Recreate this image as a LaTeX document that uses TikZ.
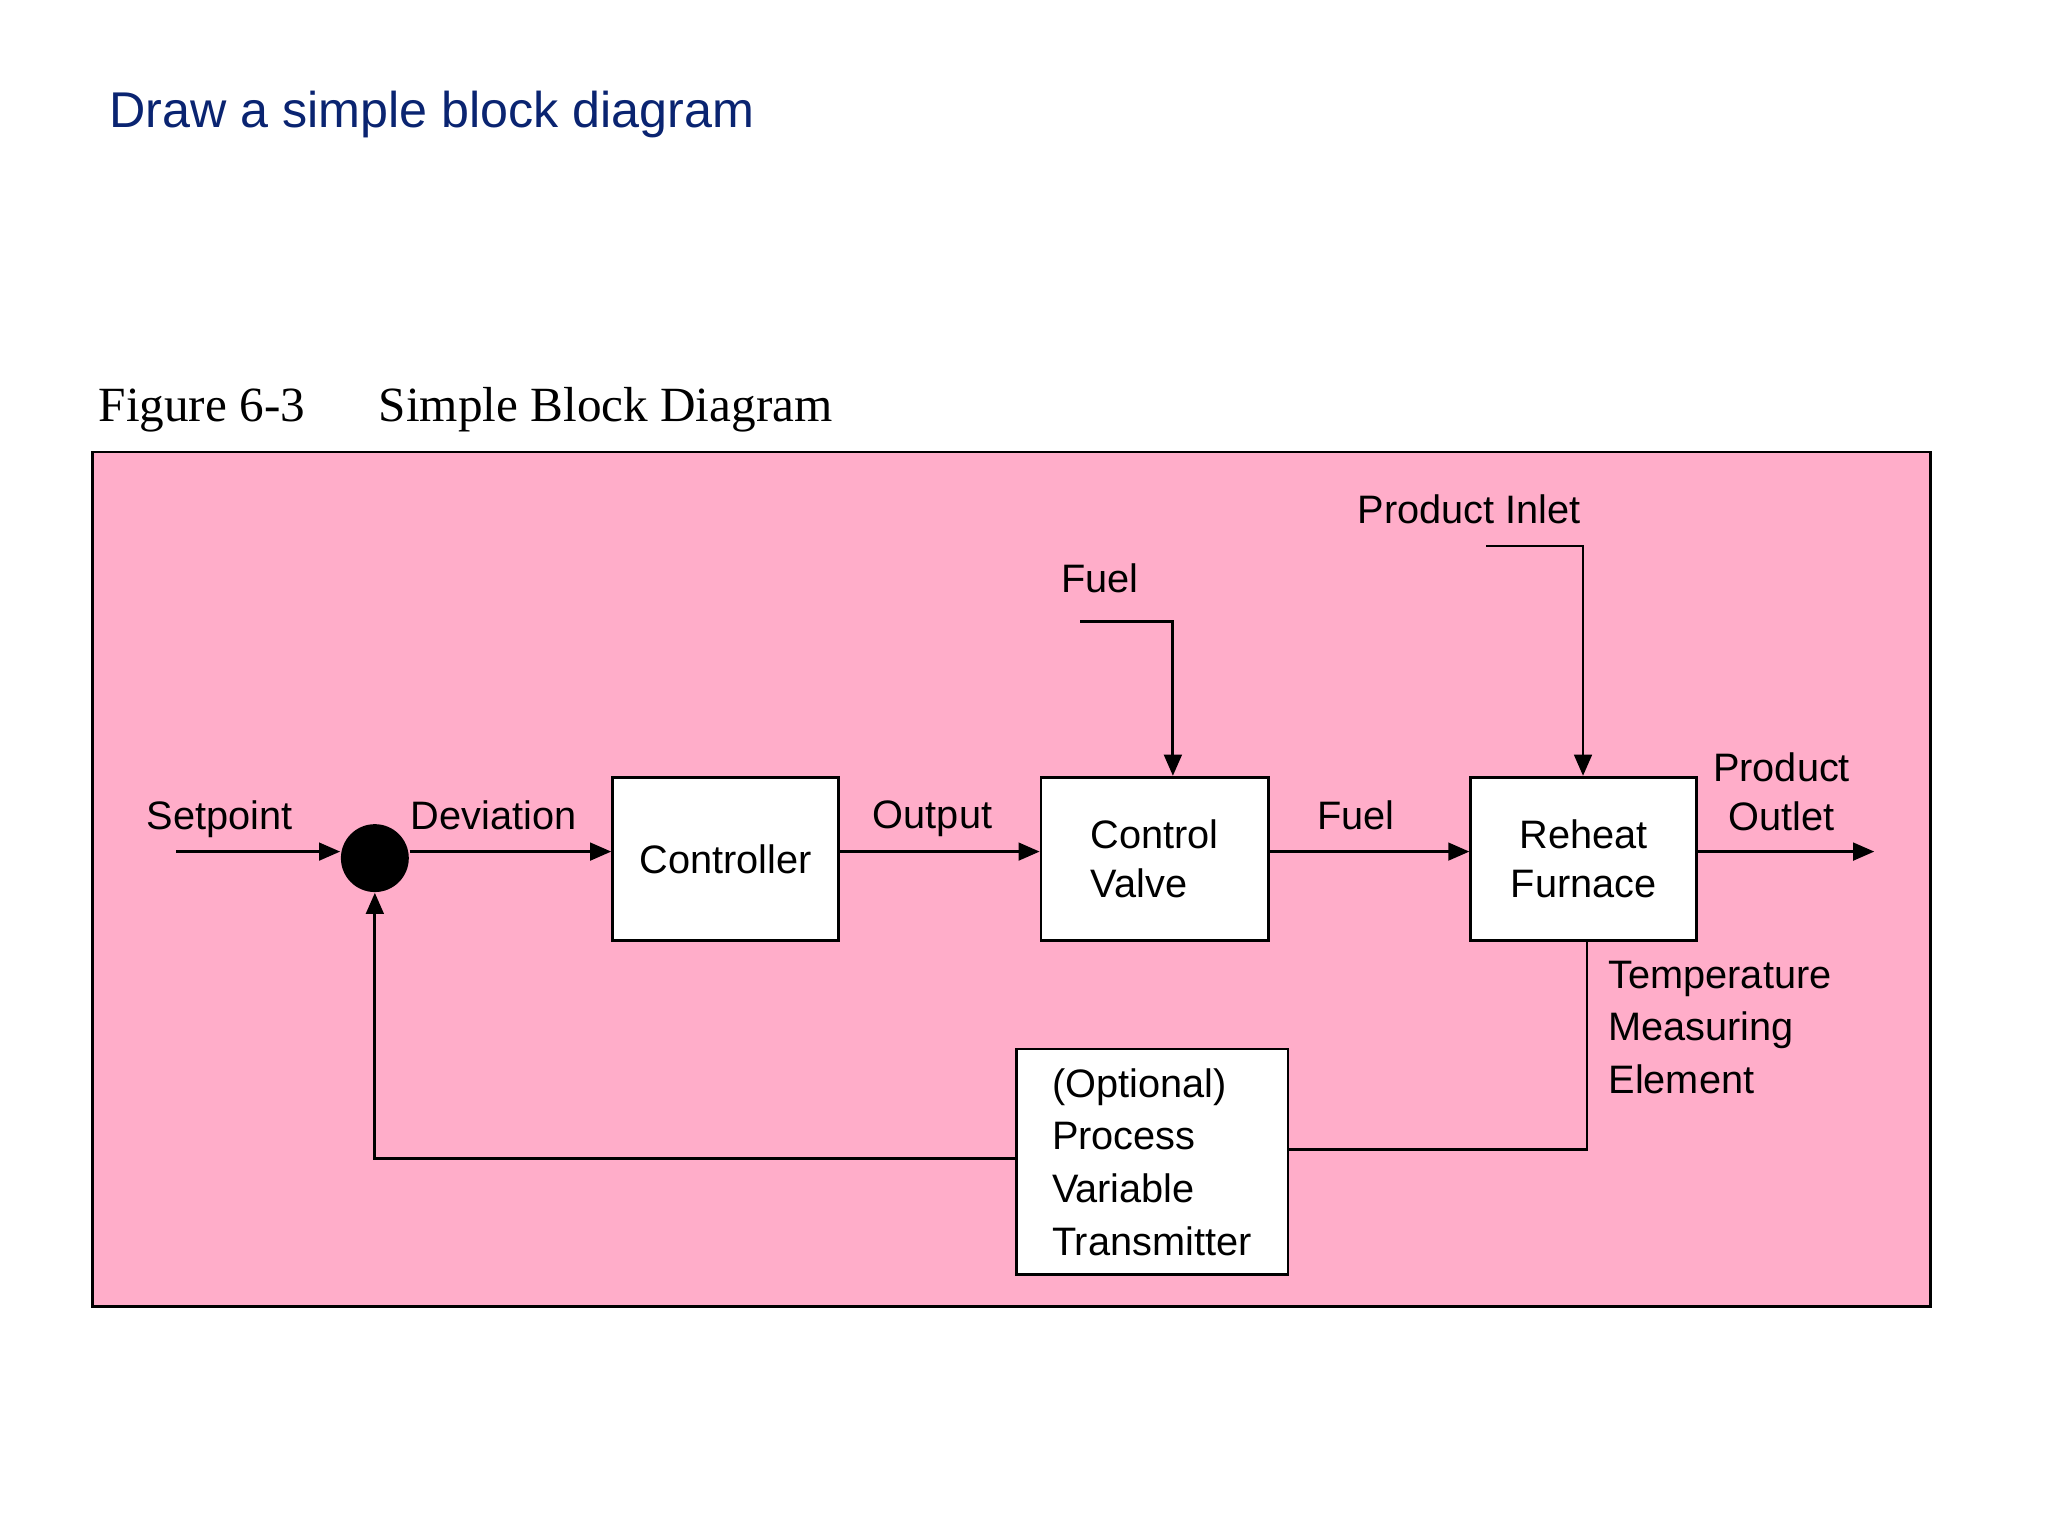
\documentclass[tikz,border=0pt]{standalone}
\usepackage{fontspec}
\setmainfont{Liberation Sans}
\newfontfamily\seriffont{Liberation Serif}
\usetikzlibrary{arrows.meta}
\definecolor{bgpink}{HTML}{FFADC9}
\definecolor{titleblue}{HTML}{0A2471}
\begin{document}
\begin{tikzpicture}[x=0.013061cm,y=-0.013061cm,
    block/.style={draw,line width=0.8pt,fill=white,inner sep=0pt,anchor=north west},
    lbl/.style={font=\fontsize{11.3}{14}\selectfont,inner sep=0pt},
    arrow/.style={line width=0.8pt,-{Triangle[length=6pt,width=5pt]}},
    wire/.style={line width=0.8pt}
  ]
  \useasboundingbox (0,0) rectangle (1568,1176);
  \node[anchor=base west,inner sep=0pt,text=titleblue,font=\fontsize{14.3}{16}\selectfont] (title) at (83,98) {Draw a simple block diagram};
  \node[anchor=base west,inner sep=0pt,font=\seriffont\fontsize{14}{16}\selectfont] (fig) at (75,323) {Figure 6-3\hspace{1.5em}Simple Block Diagram};
  \draw[line width=0.8pt,fill=bgpink] (71,346) rectangle (1478,1000);

  % blocks
  \node[block,minimum width=173*0.013061cm,minimum height=125*0.013061cm] (ctrl) at (468,594) {};
  \node[lbl] at (ctrl.center) {Controller};
  \node[block,minimum width=174*0.013061cm,minimum height=125*0.013061cm] (valve) at (796,594) {};
  \node[lbl,align=left] at (ctrl.center -| valve.center) {Control\\Valve};
  \node[block,minimum width=173*0.013061cm,minimum height=125*0.013061cm] (furn) at (1125,594) {};
  \node[lbl,align=center] at (furn.center) {Reheat\\Furnace};
  \node[block,minimum width=208*0.013061cm,minimum height=173*0.013061cm] (pvt) at (777,802) {};
  \node[lbl,align=left,anchor=west,font=\fontsize{11.3}{15}\selectfont] at ([xshift=28*0.013061cm]pvt.west) {(Optional)\\Process\\Variable\\Transmitter};
  \node[circle,fill=black,minimum size=52*0.013061cm,inner sep=0pt] (sum) at (287,657) {};

  % coordinates
  \coordinate (sp) at (135,652);
  \coordinate (out) at (1435,652);
  \coordinate (f0) at (827,476);
  \coordinate (f1) at (898,476);
  \coordinate (p0) at (1138,418);
  \coordinate (p1) at (1212,418);
  \coordinate (t0) at (1215,719);
  \coordinate (t1) at (1215,880);
  \coordinate (b0) at (287,887);

  % connectors
  \draw[arrow] (sp) -- (sp -| sum.west);
  \draw[arrow] (sum.east |- sp) -- (sp -| ctrl.west);
  \draw[arrow] (sp -| ctrl.east) -- (sp -| valve.west);
  \draw[arrow] (sp -| valve.east) -- (sp -| furn.west);
  \draw[arrow] (sp -| furn.east) -- (out);
  \draw[arrow] (f0) -- (f1) -- (f1 |- valve.north);
  \draw[arrow] (p0) -- (p1) -- (p1 |- furn.north);
  \draw[wire] (t0) -- (t1) -- (t1 -| pvt.east);
  \draw[arrow] (b0 -| pvt.west) -- (b0) -- (sum.south);

  % labels
  \node[lbl] at (168,627) {Setpoint};
  \node[lbl] at (378,624) {Deviation};
  \node[lbl] at (714,627) {Output};
  \node[lbl] at (1038,624) {Fuel};
  \node[lbl,align=center] at (1364,606) {Product\\Outlet};
  \node[lbl] at (842,443) {Fuel};
  \node[lbl] at (1125,390) {Product Inlet};
  \node[lbl,align=left,anchor=north west,font=\fontsize{11.3}{15}\selectfont] at (1231,735) {Temperature\\Measuring\\Element};
\end{tikzpicture}
\end{document}
